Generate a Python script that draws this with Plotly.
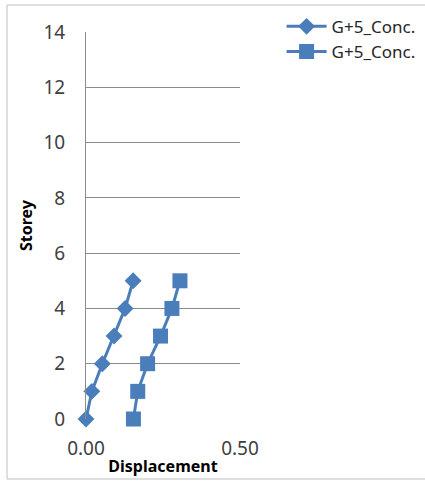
import plotly.graph_objects as go

# Storey levels and lateral displacement for the two G+5 concrete cases
storey = [0, 1, 2, 3, 4, 5]
disp_diamond = [0.000, 0.019, 0.053, 0.091, 0.127, 0.153]
disp_square = [0.154, 0.168, 0.200, 0.242, 0.279, 0.305]
series_names = ["G+5_Conc.", "G+5_Conc."]

x_ticks = [0.0, 0.5]
x_tick_text = ["0.00", "0.50"]
y_ticks = [0, 2, 4, 6, 8, 10, 12, 14]

blue = "#4a7ebb"
font_family = "Noto Sans, Open Sans, sans-serif"

fig = go.Figure()
fig.add_trace(go.Scatter(
    x=disp_diamond, y=storey, name=series_names[0], mode="lines+markers",
    line=dict(color=blue, width=3),
    marker=dict(symbol="diamond", size=13, color=blue),
    cliponaxis=False,
))
fig.add_trace(go.Scatter(
    x=disp_square, y=storey, name=series_names[1], mode="lines+markers",
    line=dict(color=blue, width=3),
    marker=dict(symbol="square", size=15, color=blue),
    cliponaxis=False,
))

fig.update_layout(
    width=425, height=481,
    margin=dict(l=86, r=185, t=32, b=62, autoexpand=False),
    paper_bgcolor="white", plot_bgcolor="white",
    font=dict(family=font_family, size=16, color="#262626"),
    showlegend=True,
    legend=dict(
        x=1.27, y=1.06, xanchor="left", yanchor="top",
        font=dict(size=17, color="#262626"),
        bgcolor="rgba(0,0,0,0)", tracegroupgap=0, itemwidth=40,
    ),
    xaxis=dict(
        range=[0, 0.5], tickvals=x_ticks, ticktext=x_tick_text,
        showgrid=False, zeroline=False, showline=False,
        ticks="", ticklabelstandoff=16,
        tickfont=dict(size=19, color="#404040"),
        title=dict(text="<b>Displacement</b>", font=dict(size=16, color="#000000"), standoff=0),
    ),
    yaxis=dict(
        range=[0, 14], tickvals=y_ticks,
        showgrid=True, gridcolor="#8c8c8c", gridwidth=1,
        zeroline=False, showline=True, linecolor="#8c8c8c", linewidth=1,
        ticks="", ticklabelstandoff=16,
        tickfont=dict(size=19, color="#404040"),
        title=dict(text="<b>Storey</b>", font=dict(size=16, color="#000000"), standoff=6),
    ),
    shapes=[dict(
        type="rect", xref="paper", yref="paper",
        x0=-79 / 154, x1=345 / 154, y0=-60 / 387, y1=1 + 27 / 387,
        line=dict(color="#bfbfbf", width=1), layer="below",
    )],
)

fig.write_html("out.html")
